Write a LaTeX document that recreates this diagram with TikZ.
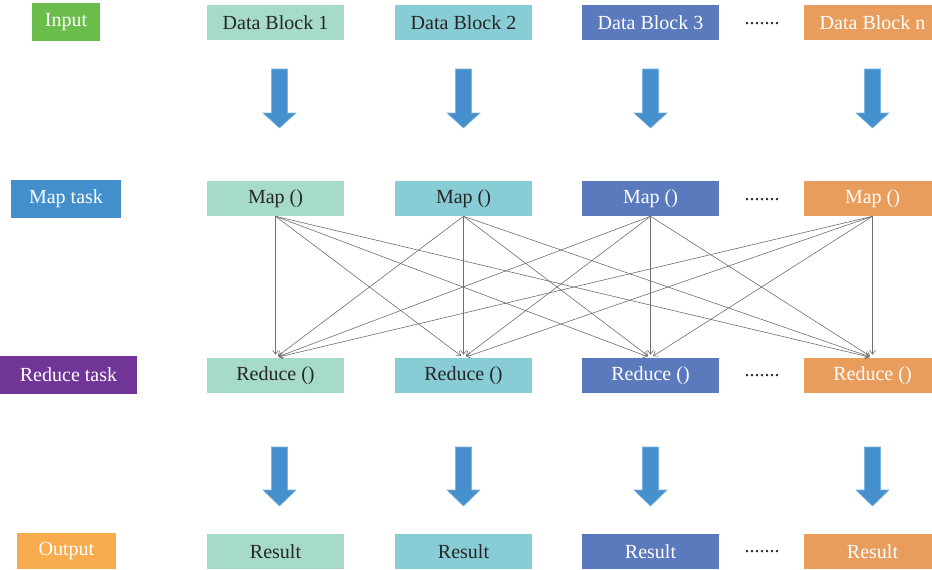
\documentclass[tikz,border=0pt]{standalone}
\usepackage{fontspec}
\setmainfont{Liberation Serif}
\usetikzlibrary{arrows.meta}

\definecolor{cInput}{HTML}{6ABD4B}
\definecolor{cMapTask}{HTML}{428FCC}
\definecolor{cReduceTask}{HTML}{703596}
\definecolor{cOutput}{HTML}{F9AC4E}
\definecolor{cColA}{HTML}{A6DAC9}
\definecolor{cColB}{HTML}{88CCD5}
\definecolor{cColC}{HTML}{5B79BD}
\definecolor{cColD}{HTML}{E99D5C}
\definecolor{cArrow}{HTML}{4590CD}
\definecolor{cArrowEdge}{HTML}{7FB3DF}
\definecolor{cLink}{HTML}{6E6E6E}
\definecolor{cDark}{HTML}{262626}

\begin{document}
\begin{tikzpicture}[x=0.75pt,y=0.75pt,yscale=-1,xscale=1,
  box/.style={inner sep=0pt, minimum width=102.75pt, minimum height=26.25pt, font=\fontsize{15}{18}\selectfont},
  tag/.style={inner sep=0pt, minimum height=28.5pt, text=white, font=\fontsize{15}{18}\selectfont},
  dotrow/.style={inner sep=0pt, text=cDark, font=\fontsize{15}{18}\selectfont},
  link/.style={draw=cLink, line width=0.45pt, -{Straight Barb[length=3pt,width=4.5pt]}, shorten >=2.25pt},
  bigarrow/.style={fill=cArrow, draw=cArrowEdge, line width=0.4pt}]
\useasboundingbox (0,0) rectangle (932,569);
\clip (0,0) rectangle (932,569);

%Row labels
\draw (66,22) node [tag, fill=cInput, minimum width=51pt] (input) {Input};
\draw (66,199) node [tag, fill=cMapTask, minimum width=82.5pt] (maptask) {Map task};
\draw (68.5,375) node [tag, fill=cReduceTask, minimum width=102.75pt] (reducetask) {Reduce task};
\draw (66.5,551) node [tag, fill=cOutput, minimum width=74.25pt, minimum height=27pt] (output) {Output};

%Input blocks
\draw (275.5,22.5) node [box, fill=cColA, text=cDark] (blk1) {Data Block 1};
\draw (463.5,22.5) node [box, fill=cColB, text=cDark] (blk2) {Data Block 2};
\draw (650.5,22.5) node [box, fill=cColC, text=white] (blk3) {Data Block 3};
\draw (872.5,22.5) node [box, fill=cColD, text=white] (blk4) {Data Block n};

%Map blocks
\draw (275.5,198.5) node [box, fill=cColA, text=cDark] (map1) {Map ()};
\draw (463.5,198.5) node [box, fill=cColB, text=cDark] (map2) {Map ()};
\draw (650.5,198.5) node [box, fill=cColC, text=white] (map3) {Map ()};
\draw (872.5,198.5) node [box, fill=cColD, text=white] (map4) {Map ()};

%Reduce blocks
\draw (275.5,375.5) node [box, fill=cColA, text=cDark] (red1) {Reduce ()};
\draw (463.5,375.5) node [box, fill=cColB, text=cDark] (red2) {Reduce ()};
\draw (650.5,375.5) node [box, fill=cColC, text=white] (red3) {Reduce ()};
\draw (872.5,375.5) node [box, fill=cColD, text=white] (red4) {Reduce ()};

%Result blocks
\draw (275.5,551.5) node [box, fill=cColA, text=cDark] (res1) {Result};
\draw (463.5,551.5) node [box, fill=cColB, text=cDark] (res2) {Result};
\draw (650.5,551.5) node [box, fill=cColC, text=white] (res3) {Result};
\draw (872.5,551.5) node [box, fill=cColD, text=white] (res4) {Result};

%Dots
\draw (762,24) node [dotrow] (dots1) {.......};
\draw (762,200) node [dotrow] (dots2) {.......};
\draw (762,376) node [dotrow] (dots3) {.......};
\draw (762,552) node [dotrow] (dots4) {.......};

%Block arrows, input to map
\draw [bigarrow] (271.5,69) -- (287.5,69) -- (287.5,113) -- (296,113) -- (279.5,128) -- (263,113) -- (271.5,113) -- cycle ;
\draw [bigarrow] (455.5,69) -- (471.5,69) -- (471.5,113) -- (480,113) -- (463.5,128) -- (447,113) -- (455.5,113) -- cycle ;
\draw [bigarrow] (642.5,69) -- (658.5,69) -- (658.5,113) -- (667,113) -- (650.5,128) -- (634,113) -- (642.5,113) -- cycle ;
\draw [bigarrow] (864.5,69) -- (880.5,69) -- (880.5,113) -- (889,113) -- (872.5,128) -- (856,113) -- (864.5,113) -- cycle ;

%Block arrows, reduce to result
\draw [bigarrow] (271.5,447) -- (287.5,447) -- (287.5,490) -- (296,490) -- (279.5,506) -- (263,490) -- (271.5,490) -- cycle ;
\draw [bigarrow] (455.5,447) -- (471.5,447) -- (471.5,490) -- (480,490) -- (463.5,506) -- (447,490) -- (455.5,490) -- cycle ;
\draw [bigarrow] (642.5,447) -- (658.5,447) -- (658.5,490) -- (667,490) -- (650.5,506) -- (634,490) -- (642.5,490) -- cycle ;
\draw [bigarrow] (864.5,447) -- (880.5,447) -- (880.5,490) -- (889,490) -- (872.5,506) -- (856,490) -- (864.5,490) -- cycle ;

%Shuffle links, map to reduce
\draw [link] (map1.south) -- (red1.north) ;
\draw [link] (map1.south) -- (red2.north) ;
\draw [link] (map1.south) -- (red3.north) ;
\draw [link] (map1.south) -- (red4.north) ;
\draw [link] (map2.south) -- (red1.north) ;
\draw [link] (map2.south) -- (red2.north) ;
\draw [link] (map2.south) -- (red3.north) ;
\draw [link] (map2.south) -- (red4.north) ;
\draw [link] (map3.south) -- (red1.north) ;
\draw [link] (map3.south) -- (red2.north) ;
\draw [link] (map3.south) -- (red3.north) ;
\draw [link] (map3.south) -- (red4.north) ;
\draw [link] (map4.south) -- (red1.north) ;
\draw [link] (map4.south) -- (red2.north) ;
\draw [link] (map4.south) -- (red3.north) ;
\draw [link] (map4.south) -- (red4.north) ;

\end{tikzpicture}
\end{document}
